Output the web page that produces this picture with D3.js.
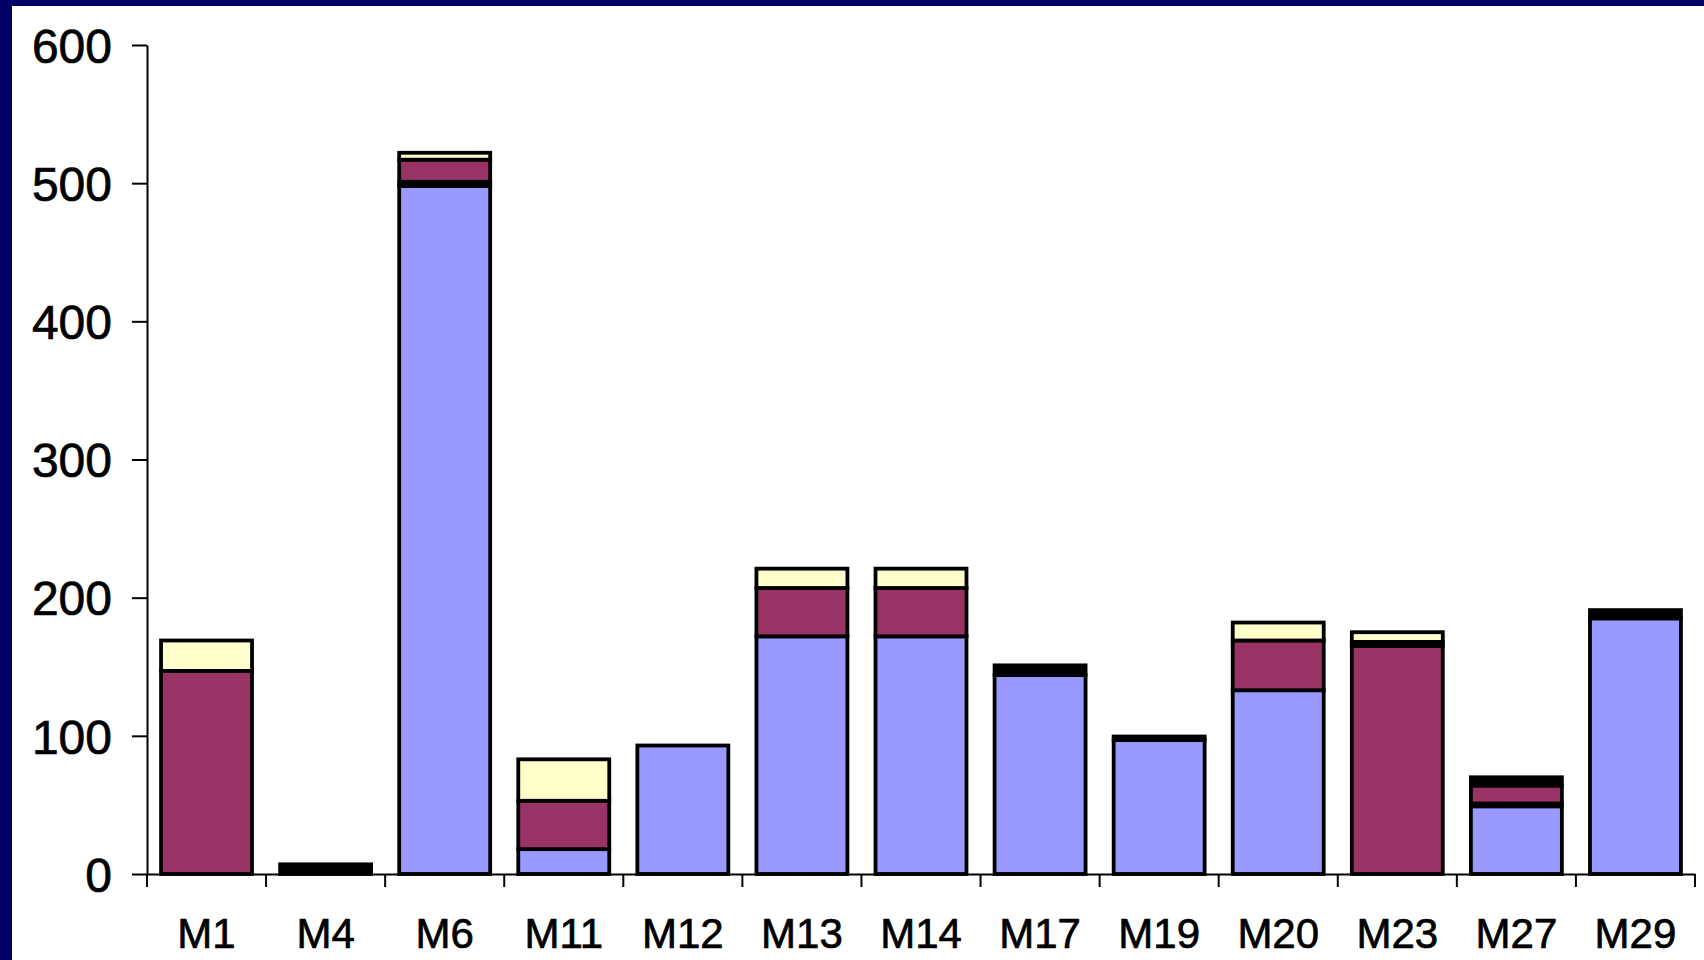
<!DOCTYPE html>
<html>
<head>
<meta charset="utf-8">
<script src="https://cdn.jsdelivr.net/npm/d3@7"></script>
<style>
  body { margin: 0; background: #000066; }
  svg { display: block; }
  text { font-family: "Liberation Sans", Arial, sans-serif; fill: #000; stroke: #000; stroke-width: 0.7px; }
</style>
</head>
<body>
<div id="chart"></div>
<script>
// categories along the x axis
var categories = ["M1", "M4", "M6", "M11", "M12", "M13", "M14", "M17", "M19", "M20", "M23", "M27", "M29"];

// stacked series, bottom to top
var blueVals   = [0, 0, 498, 18, 93, 172, 172, 144, 97, 133, 0, 49, 185];
var darkLow    = [0, 7, 3, 0, 0, 0, 0, 7, 2.5, 0, 0, 2, 6];
var maroonVals = [147, 0, 16, 35, 0, 35, 35, 0, 0, 36, 165, 13, 0];
var darkHigh   = [0, 0, 0, 0, 0, 0, 0, 0, 0, 0, 3, 6, 0];
var yellowVals = [22, 0, 5, 30, 0, 14, 14, 0, 0, 13, 7, 0, 0];

var yTicks = [0, 100, 200, 300, 400, 500, 600];

var seriesKeys = ["blue", "darkLow", "maroon", "darkHigh", "yellow"];
var seriesColors = {
  blue: "#9999ff",
  darkLow: "#000000",
  maroon: "#993366",
  darkHigh: "#000000",
  yellow: "#ffffcc"
};

function init() {
  const W = 1704, H = 960;
  const left = 147, top = 45;
  const width = 1548;
  const height = 829;

  // table for d3.stack
  var rows = categories.map(function(c, i) {
    return {
      cat: c,
      blue: blueVals[i],
      darkLow: darkLow[i],
      maroon: maroonVals[i],
      darkHigh: darkHigh[i],
      yellow: yellowVals[i]
    };
  });

  const svg = d3.select("#chart")
    .append("svg")
    .attr("width", W)
    .attr("height", H);

  // white slide area, navy frame on top and left
  svg.append("rect")
    .attr("x", 12).attr("y", 6)
    .attr("width", W - 12).attr("height", H - 6)
    .attr("fill", "#ffffff");

  const chart = svg.append("g")
    .attr("transform", "translate(" + left + "," + top + ")");

  const xScale = d3.scaleBand()
    .domain(categories)
    .range([0, width])
    .paddingInner(0.236)
    .paddingOuter(0.118);

  const yScale = d3.scaleLinear()
    .domain([0, 600])
    .range([height, 0]);

  var stacked = d3.stack().keys(seriesKeys)(rows);

  // bars
  chart.selectAll("g.layer")
    .data(stacked)
    .enter()
    .append("g")
    .attr("class", "layer")
    .attr("fill", (s) => seriesColors[s.key])
    .selectAll("rect")
    .data((s) => s.filter((d) => d[1] - d[0] > 0))
    .enter()
    .append("rect")
    .attr("x", (d) => xScale(d.data.cat))
    .attr("y", (d) => yScale(d[1]))
    .attr("width", xScale.bandwidth())
    .attr("height", (d) => yScale(d[0]) - yScale(d[1]))
    .attr("stroke", "#000")
    .attr("stroke-width", 3.8);

  // y axis
  const yAxis = chart.append("g")
    .call(d3.axisLeft(yScale)
      .tickValues(yTicks)
      .tickSize(15)
      .tickSizeOuter(0)
      .tickPadding(20));
  yAxis.selectAll("text")
    .style("font-size", "48px")
    .attr("dy", "0.36em");
  yAxis.selectAll("line, path").attr("stroke", "#000").attr("stroke-width", 2);

  // x axis: labels centred under the bars, ticks at the band edges
  const xAxis = chart.append("g")
    .attr("transform", "translate(0," + height + ")")
    .call(d3.axisBottom(xScale).tickSize(0).tickSizeOuter(0).tickPadding(44));
  xAxis.selectAll("text")
    .style("font-size", "42px")
    .attr("dy", "0.71em");
  xAxis.select("path").attr("stroke", "#000").attr("stroke-width", 2);

  var edges = categories.map((c) => xScale(c) - xScale.step() * xScale.paddingInner() / 2);
  edges.push(width);
  xAxis.selectAll("line.edge")
    .data(edges)
    .enter()
    .append("line")
    .attr("class", "edge")
    .attr("x1", (d) => d).attr("x2", (d) => d)
    .attr("y1", 0).attr("y2", 13)
    .attr("stroke", "#000")
    .attr("stroke-width", 2);
}

window.onload = init;
</script>
</body>
</html>
